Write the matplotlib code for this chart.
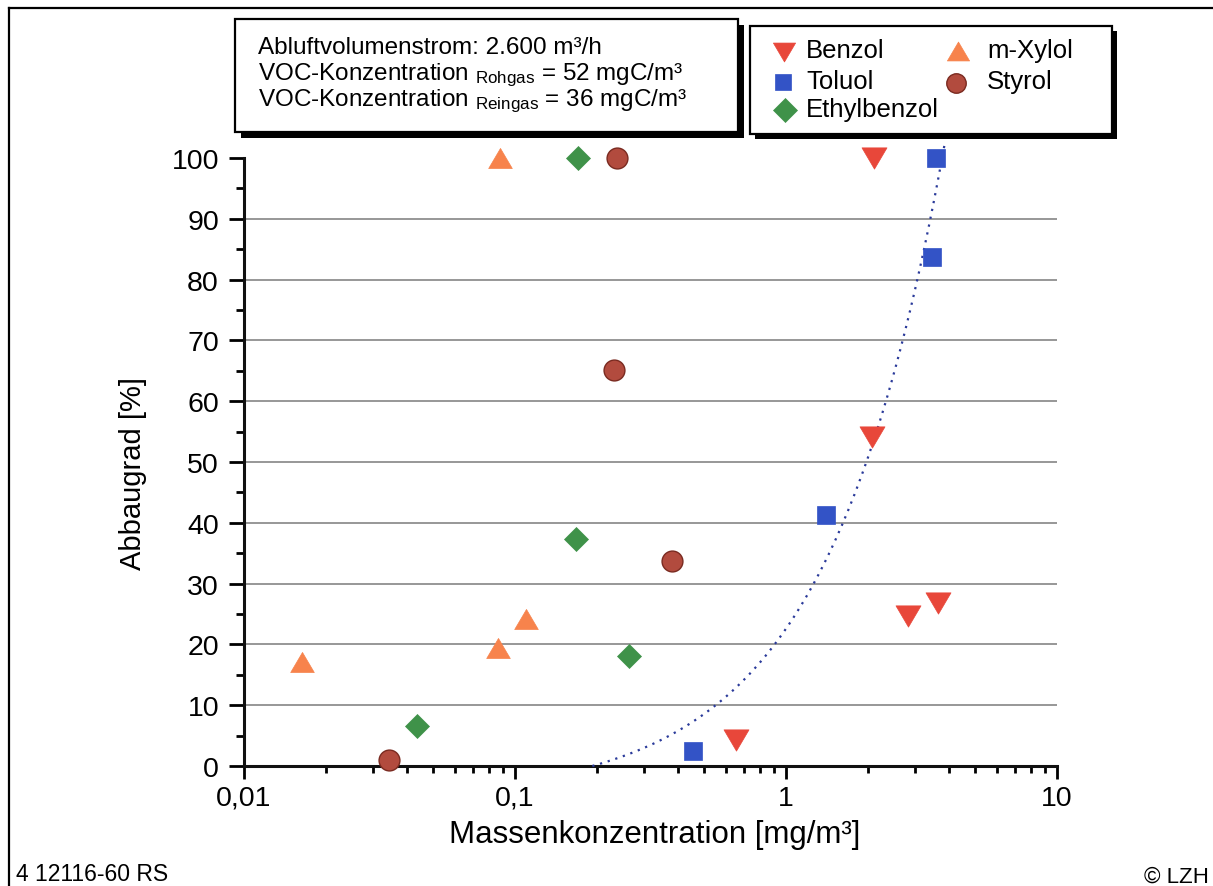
import numpy as np
import matplotlib
matplotlib.use('Agg')
import matplotlib.pyplot as plt
from matplotlib.patches import Rectangle
from matplotlib.lines import Line2D
from matplotlib.path import Path

plt.rcParams['font.family'] = ['Liberation Sans', 'DejaVu Sans']
plt.rcParams['mathtext.fontset'] = 'custom'
plt.rcParams['mathtext.rm'] = 'Liberation Sans'
plt.rcParams['mathtext.it'] = 'Liberation Sans:italic'
plt.rcParams['mathtext.bf'] = 'Liberation Sans:bold'

# ---------------- data ----------------
benzol_x = [2.12, 2.08, 2.83, 3.65, 0.654]
benzol_y = [100, 54.1, 24.7, 26.8, 4.2]
toluol_x = [3.57, 3.47, 1.41, 0.4525]
toluol_y = [100, 83.7, 41.3, 2.5]
ethyl_x = [0.171, 0.168, 0.263, 0.0435]
ethyl_y = [100, 37.3, 18.1, 6.6]
xylol_x = [0.088, 0.0164, 0.0866, 0.110]
xylol_y = [100, 17.1, 19.4, 24.2]
styrol_x = [0.237, 0.232, 0.379, 0.0343]
styrol_y = [100, 65.1, 33.7, 1.0]

series_labels = ['Benzol', 'Toluol', 'Ethylbenzol', 'm-Xylol', 'Styrol']
xtick_values = [0.01, 0.1, 1, 10]
xtick_labels = ['0,01', '0,1', '1', '10']
ytick_values = list(range(0, 101, 10))

info_lines = ['Abluftvolumenstrom: 2.600 m³/h',
              r'VOC-Konzentration $_{\mathrm{Rohgas}}$ = 52 mgC/m³',
              r'VOC-Konzentration $_{\mathrm{Reingas}}$ = 36 mgC/m³']

# ---------------- figure ----------------
W, H = 1213, 887
fig = plt.figure(figsize=(W / 100, H / 100), dpi=100)
fig.patch.set_facecolor('white')

def fx(x):
    return x / W

def fy(y):
    return 1 - y / H

ax = fig.add_axes([fx(244), fy(767), (1057 - 244) / W, (767 - 159) / H])

tri_down = Path([(-1, 0.85), (1, 0.85), (0, -0.85), (-1, 0.85)],
                [Path.MOVETO, Path.LINETO, Path.LINETO, Path.CLOSEPOLY])
tri_up = Path([(-1, -0.85), (1, -0.85), (0, 0.85), (-1, -0.85)],
              [Path.MOVETO, Path.LINETO, Path.LINETO, Path.CLOSEPOLY])

styles = {
    'Benzol': dict(marker=tri_down, ms=18, mfc='#E8473A', mec='#E8473A', mew=0.5),
    'Toluol': dict(marker='s', ms=13, mfc='#3353C6', mec='#3353C6', mew=0.5),
    'Ethylbenzol': dict(marker='D', ms=12, mfc='#3F9249', mec='#3F9249', mew=0.5),
    'm-Xylol': dict(marker=tri_up, ms=17, mfc='#F7834C', mec='#F7834C', mew=0.5),
    'Styrol': dict(marker='o', ms=15, mfc='#B24B3E', mec='#7a2a20', mew=1.0),
}
data = {
    'Benzol': (benzol_x, benzol_y),
    'Toluol': (toluol_x, toluol_y),
    'Ethylbenzol': (ethyl_x, ethyl_y),
    'm-Xylol': (xylol_x, xylol_y),
    'Styrol': (styrol_x, styrol_y),
}

for name in series_labels:
    xs, ys = data[name]
    ax.plot(xs, ys, ls='none', clip_on=False, zorder=4, **styles[name])

# linear trendline of Toluol (as in spreadsheet), drawn on the log axis
coef = np.polyfit(toluol_x, toluol_y, 1)
x_start = -coef[1] / coef[0]
x_end = (102 - coef[1]) / coef[0]
tx = np.geomspace(x_start, x_end, 300)
ax.plot(tx, np.polyval(coef, tx), color='#2a3a9a', ls=(0, (1, 2.6)), lw=1.6,
        clip_on=False, zorder=3)

ax.set_xscale('log')
ax.set_xlim(0.01, 10)
ax.set_ylim(0, 100)
ax.set_xticks(xtick_values, labels=xtick_labels)
ax.xaxis.set_minor_formatter(matplotlib.ticker.NullFormatter())
ax.set_yticks(ytick_values)
ax.set_yticks(list(range(5, 100, 10)), minor=True)

for s in ['top', 'right']:
    ax.spines[s].set_visible(False)
for s in ['left', 'bottom']:
    ax.spines[s].set_linewidth(2.2)
    ax.spines[s].set_color('#111111')

ax.tick_params(axis='x', which='major', length=9, width=2, pad=4.5, labelsize=20.5, direction='out')
ax.tick_params(axis='x', which='minor', length=5, width=2, direction='out')
ax.tick_params(axis='y', which='major', length=11, width=2, pad=7, labelsize=20.5, direction='out')
ax.tick_params(axis='y', which='minor', length=6, width=2, direction='out')

ax.grid(axis='y', which='major', color='#8f8f8f', lw=1.3)
gl = ax.get_ygridlines()
gl[0].set_visible(False)
gl[-1].set_visible(False)
ax.set_axisbelow(True)

ax.set_ylabel('Abbaugrad [%]', fontsize=21, va='center')
ax.yaxis.set_label_coords((133 - 244) / 813, (767 - 473) / 608)
ax.set_xlabel('Massenkonzentration [mg/m³]', fontsize=22.5, va='center')
ax.xaxis.set_label_coords((655 - 244) / 813, (767 - 835) / 608)

# ---------------- info box ----------------
def shadow_box(x0, y0, x1, y1, off):
    fig.add_artist(Rectangle((fx(x0 + off), fy(y1 + off)), (x1 - x0) / W, (y1 - y0) / H,
                             transform=fig.transFigure, facecolor='black',
                             edgecolor='black', lw=0, zorder=5))
    fig.add_artist(Rectangle((fx(x0), fy(y1)), (x1 - x0) / W, (y1 - y0) / H,
                             transform=fig.transFigure, facecolor='white',
                             edgecolor='black', lw=1.6, zorder=6))

shadow_box(235, 20, 738, 133, 6)
for line, base in zip(info_lines, [54, 80, 106]):
    fig.text(fx(258), fy(base), line, fontsize=17.5, va='baseline', ha='left', zorder=7)

# ---------------- legend box ----------------
shadow_box(750, 27, 1112, 135, 5)
leg_pos = {
    'Benzol': (784, 53, 806, 51),
    'Toluol': (783, 83, 806, 82),
    'Ethylbenzol': (785, 111, 806, 110),
    'm-Xylol': (958, 52, 987, 51),
    'Styrol': (956, 84, 987, 82),
}
leg_ms = {'Benzol': 16, 'Toluol': 11, 'Ethylbenzol': 12, 'm-Xylol': 16, 'Styrol': 14}
for name in series_labels:
    mx, my, tx_, ty_ = leg_pos[name]
    st = dict(styles[name])
    st['ms'] = leg_ms[name]
    fig.add_artist(Line2D([fx(mx)], [fy(my)], transform=fig.transFigure, ls='none',
                          zorder=7, **st))
    fig.text(fx(tx_), fy(ty_), name, fontsize=18.5, va='center', ha='left', zorder=7)

# ---------------- footer & frame ----------------
fig.text(fx(16), fy(875), '4 12116-60 RS', fontsize=16.5, va='center', ha='left')
fig.text(fx(1209), fy(877), '© LZH', fontsize=16, va='center', ha='right')
fig.add_artist(Line2D([fx(9), fx(9)], [fy(9), fy(887)], transform=fig.transFigure,
                      color='black', lw=1.6))
fig.add_artist(Line2D([fx(9), fx(1213)], [fy(9), fy(9)], transform=fig.transFigure,
                      color='black', lw=1.6))

fig.savefig('out.png', dpi=100, facecolor='white')
